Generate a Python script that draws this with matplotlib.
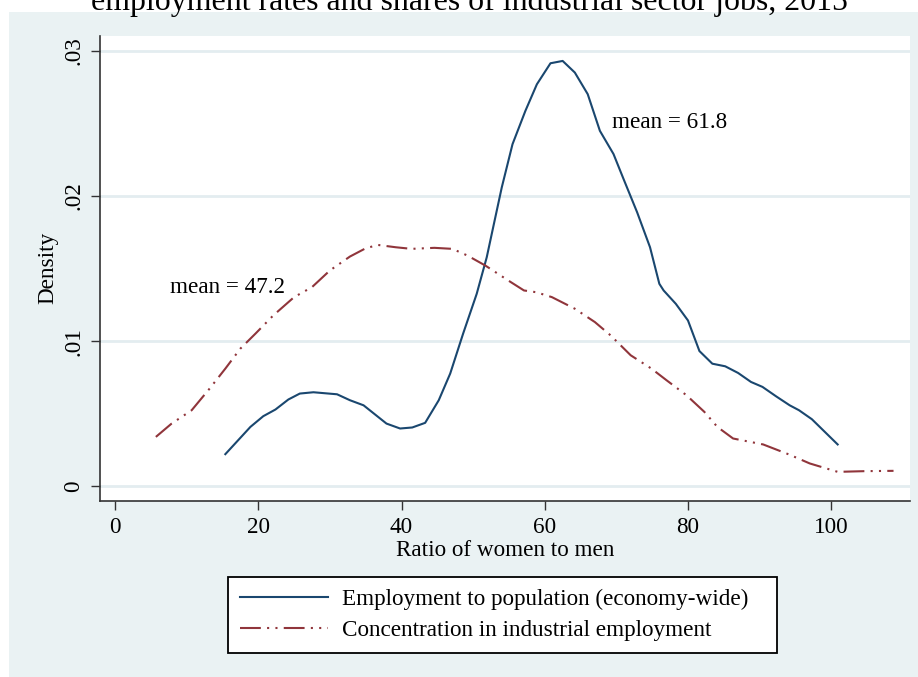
import matplotlib
matplotlib.use("Agg")
import matplotlib.pyplot as plt
from matplotlib.patches import Rectangle
from matplotlib.lines import Line2D

# ---- data ----
emp_x = [15.4, 18.9, 20.7, 22.4, 24.2, 25.8, 27.7, 31.0, 32.8, 34.7, 37.9, 39.8,
         41.5, 43.3, 45.2, 46.8, 48.6, 50.5, 51.9, 52.8, 54.0, 55.5, 57.3, 58.9,
         60.8, 62.5, 64.2, 66.0, 67.7, 69.6, 71.0, 72.9, 74.7, 76.0, 76.6, 78.3,
         80.0, 81.6, 83.4, 85.2, 87.0, 88.8, 90.4, 92.3, 94.2, 95.5, 97.3, 99.1,
         100.9]
emp_y = [0.00220, 0.00408, 0.00482, 0.00528, 0.00597, 0.00638, 0.00647, 0.00633,
         0.00592, 0.00557, 0.00431, 0.00397, 0.00404, 0.00436, 0.00592, 0.00776,
         0.01051, 0.01326, 0.01578, 0.01785, 0.02060, 0.02358, 0.02588, 0.02771,
         0.02916, 0.02932, 0.02852, 0.02703, 0.02450, 0.02290, 0.02118, 0.01888,
         0.01647, 0.01395, 0.01349, 0.01257, 0.01142, 0.00931, 0.00844, 0.00826,
         0.00780, 0.00718, 0.00684, 0.00619, 0.00557, 0.00523, 0.00461, 0.00374,
         0.00287]

ind_x = [5.7, 7.9, 10.7, 13.2, 15.4, 17.5, 19.6, 22.1, 25.0, 27.5, 30.0, 32.8,
         35.0, 36.7, 39.2, 41.4, 44.6, 47.1, 49.2, 51.7, 54.9, 57.1, 58.8, 61.0,
         64.2, 67.0, 69.2, 72.0, 74.9, 77.0, 79.8, 82.3, 84.1, 86.3, 90.5, 94.1,
         97.0, 100.9, 104.8, 108.7]
ind_y = [0.00339, 0.00431, 0.00523, 0.00672, 0.00810, 0.00948, 0.01051, 0.01177,
         0.01303, 0.01372, 0.01487, 0.01583, 0.01640, 0.01663, 0.01647, 0.01636,
         0.01643, 0.01636, 0.01590, 0.01521, 0.01418, 0.01349, 0.01337, 0.01303,
         0.01223, 0.01131, 0.01039, 0.00902, 0.00810, 0.00730, 0.00626, 0.00511,
         0.00408, 0.00328, 0.00287, 0.00218, 0.00156, 0.00098, 0.00103, 0.00105]

series_labels = ["Employment to population (economy-wide)",
                 "Concentration in industrial employment"]
mean_labels = ["mean = 61.8", "mean = 47.2"]
mean_pos = [(69.4, 0.0251), (7.7, 0.0137)]
xticks = [0, 20, 40, 60, 80, 100]
yticks = [0, 0.01, 0.02, 0.03]
ytick_labels = ["0", ".01", ".02", ".03"]
title = "employment rates and shares of industrial sector jobs, 2015"
xlabel = "Ratio of women to men"
ylabel = "Density"

# ---- style ----
W, H = 918, 677
BG = "#EAF2F3"
GRID = "#E3EDF0"
NAVY = "#1A476F"
MAROON = "#90353B"
SERIF = ["Liberation Serif", "DejaVu Serif"]
FS = 16.7
DASH = (0, (10, 3.0, 1.0, 3.0, 1.0, 3.0))

plt.rcParams["font.family"] = SERIF
fig = plt.figure(figsize=(W / 100, H / 100), dpi=100, facecolor="white")

def fx(px):
    return px / W

def fy(py):
    return 1 - py / H

# graph region background
fig.patches.append(Rectangle((fx(9), 0), 1 - fx(9), fy(12.3), transform=fig.transFigure,
                             facecolor=BG, edgecolor="none", zorder=-5))

ax = fig.add_axes([fx(100), fy(501), fx(910) - fx(100), fy(36) - fy(501)])
ax.set_zorder(2)
ax.set_facecolor("white")
ax.set_xlim(-2.1, 111.0)
ax.set_ylim(-0.00103, 0.03104)

for s in ["top", "right"]:
    ax.spines[s].set_visible(False)
for s in ["left", "bottom"]:
    ax.spines[s].set_color("#333333")
    ax.spines[s].set_linewidth(1.2)

ax.set_xticks(xticks)
ax.set_xticklabels([str(t) for t in xticks])
ax.set_yticks(yticks)
ax.set_yticklabels(ytick_labels, rotation=90, va="center")
ax.tick_params(axis="both", direction="out", length=6.5, width=1.0, color="#333333",
               labelsize=FS, pad=5)
ax.tick_params(axis="y", pad=5)
ax.yaxis.grid(True, color=GRID, linewidth=2.0)
ax.set_axisbelow(True)

ax.plot(emp_x, emp_y, color=NAVY, linewidth=1.5, solid_joinstyle="round",
        label=series_labels[0])
ax.plot(ind_x, ind_y, color=MAROON, linewidth=1.5, linestyle=DASH,
        label=series_labels[1])

for lab, (x, y) in zip(mean_labels, mean_pos):
    ax.text(x, y, lab, fontsize=FS, ha="left", va="center")

fig.text(fx(505), fy(550), xlabel, fontsize=FS, ha="center", va="center")
fig.text(fx(48), fy(268), ylabel, fontsize=FS, ha="center", va="center", rotation=90)

t = fig.text(fx(469), fy(10), title, fontsize=21, ha="center", va="baseline")
fig.canvas.draw()
ext = t.get_window_extent()
t.set_fontsize(21 * 754 / ext.width)

handles = [Line2D([], [], color=NAVY, linewidth=1.5),
           Line2D([], [], color=MAROON, linewidth=1.5, linestyle=DASH)]
leg = fig.legend(handles, series_labels, loc="lower left",
                 bbox_to_anchor=(fx(228), fy(653), fx(777) - fx(228), fy(576) - fy(653)),
                 bbox_transform=fig.transFigure, mode="expand", ncol=1,
                 fontsize=FS, frameon=True, fancybox=False, framealpha=1,
                 edgecolor="black", facecolor="white", handlelength=3.8,
                 handletextpad=0.6, labelspacing=0.45, borderpad=0.5,
                 borderaxespad=0)
leg.get_frame().set_linewidth(1.3)

fig.savefig("out.png", dpi=100, facecolor="white")
